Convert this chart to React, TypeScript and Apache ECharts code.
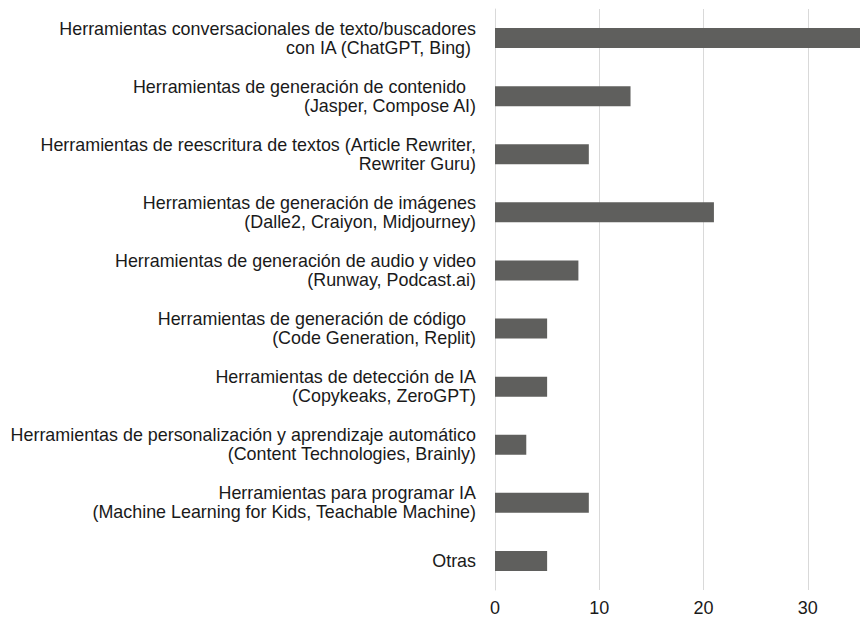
import React, { useEffect, useRef } from "react";
import * as echarts from "echarts";

const categories: string[] = [
  "Herramientas conversacionales de texto/buscadores\ncon IA (ChatGPT, Bing) ",
  "Herramientas de generación de contenido  \n(Jasper, Compose AI)",
  "Herramientas de reescritura de textos (Article Rewriter,\nRewriter Guru)",
  "Herramientas de generación de imágenes\n(Dalle2, Craiyon, Midjourney)",
  "Herramientas de generación de audio y video\n(Runway, Podcast.ai)",
  "Herramientas de generación de código  \n(Code Generation, Replit)",
  "Herramientas de detección de IA\n(Copykeaks, ZeroGPT)",
  "Herramientas de personalización y aprendizaje automático\n(Content Technologies, Brainly)",
  "Herramientas para programar IA\n(Machine Learning for Kids, Teachable Machine)",
  "Otras",
];

const values: number[] = [37, 13, 9, 21, 8, 5, 5, 3, 9, 5];

const xTicks = { min: 0, max: 40, interval: 10 };

export default function App() {
  const ref = useRef<HTMLDivElement>(null);

  useEffect(() => {
    if (!ref.current) return;
    const chart = echarts.init(ref.current, undefined, { renderer: "svg" });
    chart.setOption({
      animation: false,
      backgroundColor: "#ffffff",
      textStyle: { fontFamily: "'Liberation Sans', Arial, sans-serif" },
      grid: { left: 495, right: 48, top: 9, bottom: 26, containLabel: false },
      xAxis: {
        type: "value",
        min: xTicks.min,
        max: xTicks.max,
        interval: xTicks.interval,
        axisLine: { show: false },
        axisTick: { show: false },
        splitLine: { show: true, lineStyle: { color: "#d9d9d9", width: 1 } },
        axisLabel: {
          margin: 9,
          fontSize: 18,
          color: "#1a1a1a",
          showMaxLabel: false,
          fontFamily: "'Liberation Sans', Arial, sans-serif",
        },
      },
      yAxis: {
        type: "category",
        inverse: true,
        data: categories,
        axisLine: { show: true, lineStyle: { color: "#d9d9d9", width: 1 } },
        axisTick: { show: false },
        axisLabel: {
          margin: 19,
          fontSize: 17.9,
          lineHeight: 19,
          color: "#1a1a1a",
          align: "right",
          fontFamily: "'Liberation Sans', Arial, sans-serif",
        },
      },
      series: [
        {
          type: "bar",
          data: values,
          barWidth: 20,
          itemStyle: { color: "#5f5f5d" },
        },
      ],
    });
    return () => chart.dispose();
  }, []);

  return (
    <div
      style={{
        position: "fixed",
        left: 0,
        top: 0,
        width: 860,
        height: 617,
        overflow: "hidden",
        background: "#ffffff",
      }}
    >
      <div ref={ref} style={{ width: 960, height: 617 }} />
    </div>
  );
}
